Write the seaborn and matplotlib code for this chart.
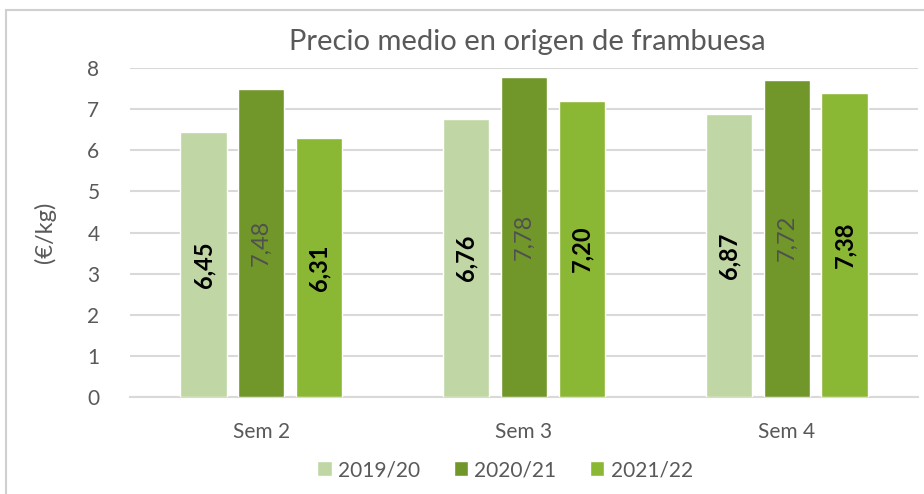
import numpy as np
import pandas as pd
import matplotlib
matplotlib.use("Agg")
import matplotlib.pyplot as plt
from matplotlib.patches import Rectangle
import seaborn as sns

semanas = ["Sem 2", "Sem 3", "Sem 4"]
campanas = ["2019/20", "2020/21", "2021/22"]
precio_1920 = [6.45, 6.76, 6.87]
precio_2021 = [7.48, 7.78, 7.72]
precio_2122 = [6.31, 7.20, 7.38]

colores = ["#C0D6A4", "#71972B", "#8BB834"]
color_etiqueta = ["black", "#505050", "black"]
peso_etiqueta = ["bold", "normal", "bold"]
gris = "#595959"

df = pd.DataFrame({
    "semana": semanas * 3,
    "campana": np.repeat(campanas, 3),
    "precio": precio_1920 + precio_2021 + precio_2122,
})

sns.set_theme(style="white")
plt.rcParams["font.family"] = ["Lato", "DejaVu Sans"]

fig = plt.figure(figsize=(9.24, 4.94), dpi=100)
ax = fig.add_axes([130 / 924, 1 - 397 / 494, (918 - 130) / 924, (397 - 68) / 494])

# marco exterior del grafico
fig.patches.append(Rectangle((6 / 924, -0.1), 1.2, 1 - 10 / 494 + 0.1, transform=fig.transFigure,
                             fill=False, edgecolor="#D0D0D0", linewidth=1.5, zorder=0))

sns.barplot(data=df, x="semana", y="precio", hue="campana", palette=colores,
            width=0.66, gap=0.2, ax=ax, zorder=3, saturation=1, legend=True)

for i, cont in enumerate(ax.containers):
    etiquetas = [f"{v:.2f}".replace(".", ",") for v in cont.datavalues]
    ax.bar_label(cont, labels=etiquetas, label_type="center", rotation=90,
                 color=color_etiqueta[i], fontweight=peso_etiqueta[i], fontsize=17)

ax.set_ylim(0, 8)
ax.set_xlim(-0.5, 2.5)
ax.set_yticks(range(0, 9))
ax.yaxis.grid(True, color="#D9D9D9", linewidth=1.5, zorder=0)
ax.set_axisbelow(True)
for s in ["top", "right", "left"]:
    ax.spines[s].set_visible(False)
ax.spines["bottom"].set_color("#D9D9D9")
ax.spines["bottom"].set_linewidth(1.5)
ax.tick_params(axis="both", colors=gris, labelsize=15, length=0)
ax.tick_params(axis="x", pad=18)
ax.tick_params(axis="y", pad=22)
ax.set_xlabel("")
ax.set_ylabel("")
fig.text(45 / 924, 1 - 232 / 494, "(€/kg)", rotation=90, ha="center", va="center",
         color=gris, fontsize=17)

fig.text(527 / 924, 1 - 42 / 494, "Precio medio en origen de frambuesa", ha="center", va="center",
         fontsize=21, color=gris)

handles, labels = ax.get_legend_handles_labels()
ax.legend(handles, labels, loc="center", bbox_to_anchor=(505 / 924, 1 - 470 / 494),
          bbox_transform=fig.transFigure, ncol=3, frameon=False, fontsize=15,
          handlelength=0.7, handleheight=0.7, handletextpad=0.3, columnspacing=1.6,
          labelcolor=gris)

fig.savefig("out.png", dpi=100)
